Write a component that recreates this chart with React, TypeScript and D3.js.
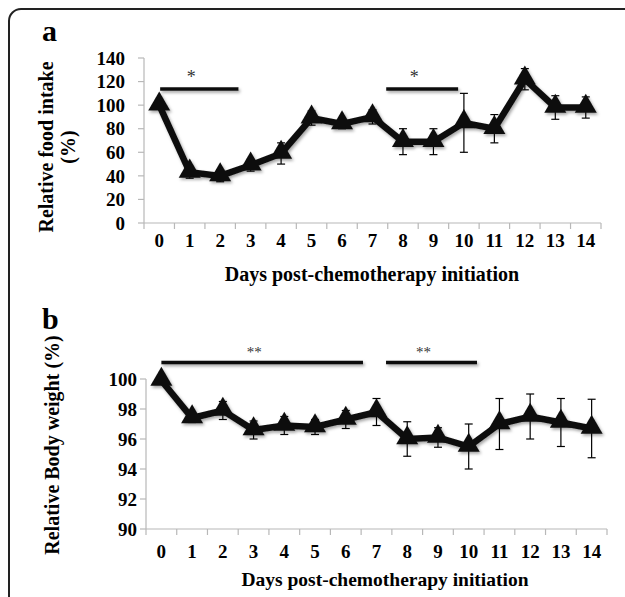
import React from "react";
import * as d3 from "d3";

const days = d3.range(0, 15);

const foodMean = [100, 43, 40, 49, 59, 89, 84, 90, 69, 69, 85, 80, 122, 98, 98];
const foodErr = [0, 5, 5, 5, 9, 6, 4, 6, 11, 11, 25, 12, 9, 10, 9];
const foodTicks = [0, 20, 40, 60, 80, 100, 120, 140];
// significance bars: [fromDay, toDay, label]
const foodSig: [number, number, string][] = [
  [0.03, 2.6, "*"],
  [7.45, 9.81, "*"],
];

const weightMean = [99.9, 97.4, 97.9, 96.6, 96.9, 96.8, 97.3, 97.8, 96.0, 96.1, 95.5, 97.0, 97.5, 97.1, 96.7];
const weightErr = [0, 0.3, 0.6, 0.6, 0.6, 0.5, 0.6, 0.9, 1.15, 0.65, 1.5, 1.7, 1.5, 1.6, 1.95];
const weightTicks = [90, 92, 94, 96, 98, 100];
const weightSig: [number, number, string][] = [
  [0.0, 6.56, "**"],
  [7.31, 10.27, "**"],
];

const FONT = "'Liberation Serif', 'DejaVu Serif', serif";

type PanelProps = {
  letter: string;
  mean: number[];
  err: number[];
  ticks: number[];
  sig: [number, number, string][];
  sigLevel: number;
  xRange: [number, number];
  yDomain: [number, number];
  yRange: [number, number];
  yTitle: string[];
  yTitleX: number[];
  yTitleY: number;
  letterY: number;
  tickLabelY: number;
  tickGap: number;
  xTitleX: number;
  xTitleY: number;
  xTitleSize: number;
  sigFont: number;
};

const Panel = (p: PanelProps) => {
  const x = d3.scaleBand<number>().domain(days).range(p.xRange);
  const bw = x.bandwidth();
  const cx = (d: number) => (x(0) as number) + bw * (0.5 + d);
  const y = d3.scaleLinear().domain(p.yDomain).range(p.yRange);
  const line = d3
    .line<number>()
    .x((_, i) => cx(i))
    .y((d) => y(d));
  const tri = d3.symbol(d3.symbolTriangle, 210)();
  const [x0, x1] = p.xRange;
  const y0 = y(p.yDomain[0]);

  return (
    <g>
      <text x={42} y={p.letterY} fontFamily={FONT} fontWeight="bold" fontSize={30}>
        {p.letter}
      </text>
      {/* y axis */}
      <line x1={x0} x2={x0} y1={y(p.yDomain[1])} y2={y0} stroke="#b8b8b8" strokeWidth={1.2} />
      {p.ticks.map((t) => (
        <g key={t}>
          <line x1={x0 - 6} x2={x0} y1={y(t)} y2={y(t)} stroke="#b8b8b8" strokeWidth={1.2} />
          <text
            x={x0 - p.tickGap}
            y={y(t)}
            dy="0.35em"
            textAnchor="end"
            fontFamily={FONT}
            fontWeight="bold"
            fontSize={19}
          >
            {t}
          </text>
        </g>
      ))}
      {/* x axis */}
      <line x1={x0} x2={x1} y1={y0} y2={y0} stroke="#b8b8b8" strokeWidth={1.2} />
      {d3.range(0, 16).map((i) => (
        <line
          key={i}
          x1={x0 + bw * i}
          x2={x0 + bw * i}
          y1={y0}
          y2={y0 + 6}
          stroke="#b8b8b8"
          strokeWidth={1.2}
        />
      ))}
      {days.map((d) => (
        <text
          key={d}
          x={cx(d)}
          y={p.tickLabelY}
          textAnchor="middle"
          fontFamily={FONT}
          fontWeight="bold"
          fontSize={19}
        >
          {d}
        </text>
      ))}
      <text
        x={p.xTitleX}
        y={p.xTitleY}
        textAnchor="middle"
        fontFamily={FONT}
        fontWeight="bold"
        fontSize={p.xTitleSize}
      >
        Days post-chemotherapy initiation
      </text>
      {p.yTitle.map((t, i) => (
        <text
          key={t}
          transform={`translate(${p.yTitleX[i]},${p.yTitleY}) rotate(-90)`}
          dy="0.35em"
          textAnchor="middle"
          fontFamily={FONT}
          fontWeight="bold"
          fontSize={20}
        >
          {t}
        </text>
      ))}
      {/* significance */}
      {p.sig.map(([a, b, lab]) => (
        <g key={a}>
          <line
            x1={cx(a)}
            x2={cx(b)}
            y1={y(p.sigLevel)}
            y2={y(p.sigLevel)}
            stroke="#111"
            strokeWidth={3.5}
            filter="url(#shadow)"
          />
          <text
            x={cx((a + b) / 2) - 8}
            y={y(p.sigLevel) - 6}
            textAnchor="middle"
            fontFamily={FONT}
            fontSize={p.sigFont}
            fill="#333"
          >
            {lab}
          </text>
        </g>
      ))}
      {/* error bars */}
      {p.mean.map((m, i) =>
        p.err[i] > 0 ? (
          <g key={i} stroke="#000" strokeWidth={1.2}>
            <line x1={cx(i)} x2={cx(i)} y1={y(m - p.err[i])} y2={y(m + p.err[i])} />
            <line x1={cx(i) - 4} x2={cx(i) + 4} y1={y(m - p.err[i])} y2={y(m - p.err[i])} />
            <line x1={cx(i) - 4} x2={cx(i) + 4} y1={y(m + p.err[i])} y2={y(m + p.err[i])} />
          </g>
        ) : null
      )}
      <g filter="url(#shadow)">
        <path d={line(p.mean) as string} fill="none" stroke="#111" strokeWidth={6.5} strokeLinejoin="miter" />
        {p.mean.map((m, i) => (
          <path key={i} d={tri as string} transform={`translate(${cx(i)},${y(m) - 1})`} fill="#111" />
        ))}
      </g>
    </g>
  );
};

const App = () => {
  return (
    <svg
      width={625}
      height={597}
      style={{ position: "absolute", left: 0, top: 0, background: "#fff" }}
    >
      <defs>
        <filter id="shadow" filterUnits="userSpaceOnUse" x={0} y={0} width={625} height={597}>
          <feDropShadow dx={1.5} dy={2} stdDeviation={1.5} floodColor="#000" floodOpacity={0.35} />
        </filter>
      </defs>
      <rect x={9} y={9} width={640} height={620} rx={12} fill="none" stroke="#222" strokeWidth={2} />
      <Panel
        letter="a"
        mean={foodMean}
        err={foodErr}
        ticks={foodTicks}
        sig={foodSig}
        sigLevel={113.7}
        xRange={[144, 601]}
        yDomain={[0, 140]}
        yRange={[223, 58]}
        yTitle={["Relative food intake", "(%)"]}
        yTitleX={[46, 68]}
        yTitleY={147}
        letterY={41}
        tickLabelY={247}
        tickGap={19}
        xTitleX={372}
        xTitleY={281}
        xTitleSize={20}
        sigFont={18}
      />
      <Panel
        letter="b"
        mean={weightMean}
        err={weightErr}
        ticks={weightTicks}
        sig={weightSig}
        sigLevel={101.1}
        xRange={[146, 607]}
        yDomain={[90, 100]}
        yRange={[529, 379]}
        yTitle={["Relative Body weight (%)"]}
        yTitleX={[52]}
        yTitleY={445}
        letterY={329}
        tickLabelY={558}
        tickGap={9}
        xTitleX={385}
        xTitleY={586}
        xTitleSize={19.5}
        sigFont={15}
      />
    </svg>
  );
};

export default App;
